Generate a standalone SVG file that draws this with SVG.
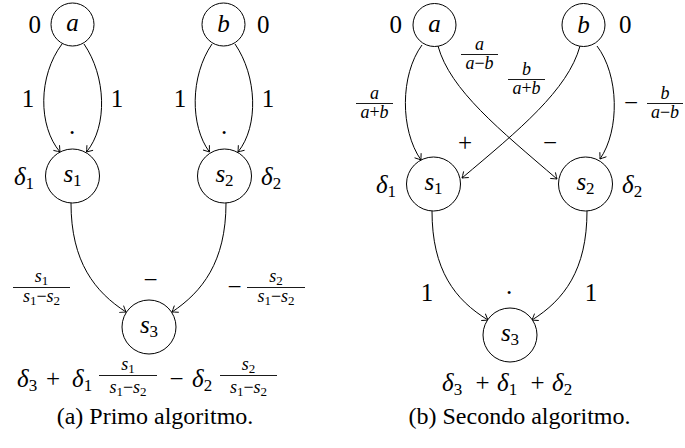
<svg xmlns="http://www.w3.org/2000/svg" width="685" height="448" viewBox="0 0 685 448">
<style>
text{fill:#000}
.m{font-size:25px;font-style:italic}
.r{font-size:25px;font-style:normal}
.sub{font-size:17px;font-style:normal}
.f{font-size:18px;font-style:italic}
.fsub{font-size:13px;font-style:normal}
.up{font-style:normal}
.cap{font-size:24px}
circle{fill:#fff;stroke:#000;stroke-width:1}
.e{fill:none;stroke:#000;stroke-width:1;marker-end:url(#arr)}
.bar{stroke:#000;stroke-width:0.9}
</style>
<defs>
<marker id="arr" markerUnits="userSpaceOnUse" markerWidth="12" markerHeight="12" viewBox="-7 -6 9 12" refX="0" refY="0" orient="auto">
<path d="M-5.5,-4 Q-1.5,-1 0,0 Q-1.5,1 -5.5,4" fill="none" stroke="#000" stroke-width="0.9"/>
</marker>
</defs>

<g id="connectors">
<path class="e" d="M62,44 C38,76 38,126 60,152"/>
<path class="e" d="M84,44 C106,76 108,126 86.5,152"/>
<path class="e" d="M212,44 C190,76 190,126 209.5,152"/>
<path class="e" d="M235,44 C257,76 259,126 238,152"/>
<path class="e" d="M71,203 C71,262 95,292 126,312"/>
<path class="e" d="M226,203 C226,262 202,292 172,312"/>

<path class="e" d="M422,45 C400,75 400,130 421,160"/>
<path class="e" d="M438,46 C450,90 500,130 557,179"/>
<path class="e" d="M580,46 C568,90 519,130 462,178"/>
<path class="e" d="M597,46 C619,75 620,130 600,159"/>
<path class="e" d="M432,211 C432,270 455,300 488,320"/>
<path class="e" d="M587,211 C587,270 564,300 532,320"/>
</g>

<g id="edge-labels">
<text style="font-family:serif" class="r" x="28" y="107" text-anchor="middle">1</text>
<text style="font-family:serif" class="r" x="117" y="107" text-anchor="middle">1</text>
<text style="font-family:serif" class="r" x="72" y="134" text-anchor="middle">.</text>
<text style="font-family:serif" class="r" x="180" y="107" text-anchor="middle">1</text>
<text style="font-family:serif" class="r" x="268" y="107" text-anchor="middle">1</text>
<text style="font-family:serif" class="r" x="224" y="134" text-anchor="middle">.</text>

<text style="font-family:serif" class="f" x="41.5" y="282" text-anchor="middle">s<tspan class="fsub" dy="3">1</tspan></text>
<line class="bar" x1="13" y1="287.5" x2="70" y2="287.5"/>
<text style="font-family:serif" class="f" x="41.5" y="302" text-anchor="middle">s<tspan class="fsub" dy="3">1</tspan><tspan class="up" dy="-3">−</tspan>s<tspan class="fsub" dy="3">2</tspan></text>
<text style="font-family:serif" class="r" x="150.5" y="288" text-anchor="middle">−</text>
<text style="font-family:serif" class="r" x="234.5" y="295" text-anchor="middle">−</text>
<text style="font-family:serif" class="f" x="276" y="282" text-anchor="middle">s<tspan class="fsub" dy="3">2</tspan></text>
<line class="bar" x1="247" y1="287.5" x2="305" y2="287.5"/>
<text style="font-family:serif" class="f" x="276" y="302" text-anchor="middle">s<tspan class="fsub" dy="3">1</tspan><tspan class="up" dy="-3">−</tspan>s<tspan class="fsub" dy="3">2</tspan></text>

<text style="font-family:serif" class="f" x="479.5" y="50" text-anchor="middle">a</text>
<line class="bar" x1="461" y1="54.5" x2="498" y2="54.5"/>
<text style="font-family:serif" class="f" x="479.5" y="69" text-anchor="middle">a<tspan class="up">−</tspan>b</text>
<text style="font-family:serif" class="f" x="526.5" y="75" text-anchor="middle">b</text>
<line class="bar" x1="508" y1="79.5" x2="545" y2="79.5"/>
<text style="font-family:serif" class="f" x="526.5" y="94" text-anchor="middle">a<tspan class="up">+</tspan>b</text>
<text style="font-family:serif" class="f" x="374.5" y="99" text-anchor="middle">a</text>
<line class="bar" x1="356" y1="103.5" x2="393" y2="103.5"/>
<text style="font-family:serif" class="f" x="374.5" y="118" text-anchor="middle">a<tspan class="up">+</tspan>b</text>
<text style="font-family:serif" class="r" x="631" y="111" text-anchor="middle">−</text>
<text style="font-family:serif" class="f" x="665" y="99" text-anchor="middle">b</text>
<line class="bar" x1="647" y1="103.5" x2="683" y2="103.5"/>
<text style="font-family:serif" class="f" x="665" y="118" text-anchor="middle">a<tspan class="up">−</tspan>b</text>
<text style="font-family:serif" class="r" x="465" y="151" text-anchor="middle">+</text>
<text style="font-family:serif" class="r" x="550" y="151" text-anchor="middle">−</text>

<text style="font-family:serif" class="r" x="427" y="301" text-anchor="middle">1</text>
<text style="font-family:serif" class="r" x="509" y="294" text-anchor="middle">.</text>
<text style="font-family:serif" class="r" x="591" y="301" text-anchor="middle">1</text>
</g>

<g id="left-a">
<circle cx="72.5" cy="24.5" r="21.5"/>
<text style="font-family:serif" class="m" x="72.5" y="31" text-anchor="middle">a</text>
<text style="font-family:serif" class="r" x="41" y="33" text-anchor="end">0</text>
</g>
<g id="left-b">
<circle cx="223.5" cy="24.5" r="21.5"/>
<text style="font-family:serif" class="m" x="223.5" y="32" text-anchor="middle">b</text>
<text style="font-family:serif" class="r" x="257" y="33">0</text>
</g>
<g id="left-s1">
<circle cx="72.5" cy="176" r="27"/>
<text style="font-family:serif" class="m" x="72.5" y="182" text-anchor="middle">s<tspan class="sub" dy="4">1</tspan></text>
<text style="font-family:serif" class="m" x="34" y="185" text-anchor="end">δ<tspan class="sub" dy="4">1</tspan></text>
</g>
<g id="left-s2">
<circle cx="224.5" cy="176" r="27"/>
<text style="font-family:serif" class="m" x="224.5" y="182" text-anchor="middle">s<tspan class="sub" dy="4">2</tspan></text>
<text style="font-family:serif" class="m" x="261" y="185">δ<tspan class="sub" dy="4">2</tspan></text>
</g>
<g id="left-s3">
<circle cx="149" cy="327" r="27"/>
<text style="font-family:serif" class="m" x="149" y="333" text-anchor="middle">s<tspan class="sub" dy="4">3</tspan></text>
</g>

<g id="left-formula">
<text style="font-family:serif" class="m" x="17" y="387">δ<tspan class="sub" dy="4">3</tspan></text>
<text style="font-family:serif" class="r" x="53" y="387" text-anchor="middle">+</text>
<text style="font-family:serif" class="m" x="72" y="387">δ<tspan class="sub" dy="4">1</tspan></text>
<text style="font-family:serif" class="f" x="128" y="370" text-anchor="middle">s<tspan class="fsub" dy="3">1</tspan></text>
<line class="bar" x1="99" y1="375.5" x2="157" y2="375.5"/>
<text style="font-family:serif" class="f" x="128" y="393" text-anchor="middle">s<tspan class="fsub" dy="3">1</tspan><tspan class="up" dy="-3">−</tspan>s<tspan class="fsub" dy="3">2</tspan></text>
<text style="font-family:serif" class="r" x="176.5" y="387" text-anchor="middle">−</text>
<text style="font-family:serif" class="m" x="192" y="387">δ<tspan class="sub" dy="4">2</tspan></text>
<text style="font-family:serif" class="f" x="248.5" y="370" text-anchor="middle">s<tspan class="fsub" dy="3">2</tspan></text>
<line class="bar" x1="220" y1="375.5" x2="277" y2="375.5"/>
<text style="font-family:serif" class="f" x="248.5" y="393" text-anchor="middle">s<tspan class="fsub" dy="3">1</tspan><tspan class="up" dy="-3">−</tspan>s<tspan class="fsub" dy="3">2</tspan></text>
</g>

<g id="right-a">
<circle cx="434.5" cy="25" r="21.5"/>
<text style="font-family:serif" class="m" x="434.5" y="31.5" text-anchor="middle">a</text>
<text style="font-family:serif" class="r" x="402" y="33" text-anchor="end">0</text>
</g>
<g id="right-b">
<circle cx="583.5" cy="25" r="21.5"/>
<text style="font-family:serif" class="m" x="583.5" y="32.5" text-anchor="middle">b</text>
<text style="font-family:serif" class="r" x="619" y="33">0</text>
</g>
<g id="right-s1">
<circle cx="433.5" cy="184" r="27"/>
<text style="font-family:serif" class="m" x="433.5" y="190" text-anchor="middle">s<tspan class="sub" dy="4">1</tspan></text>
<text style="font-family:serif" class="m" x="396" y="193" text-anchor="end">δ<tspan class="sub" dy="4">1</tspan></text>
</g>
<g id="right-s2">
<circle cx="585.5" cy="184" r="27"/>
<text style="font-family:serif" class="m" x="585.5" y="190" text-anchor="middle">s<tspan class="sub" dy="4">2</tspan></text>
<text style="font-family:serif" class="m" x="622" y="193">δ<tspan class="sub" dy="4">2</tspan></text>
</g>
<g id="right-s3">
<circle cx="510" cy="335" r="27"/>
<text style="font-family:serif" class="m" x="510" y="341" text-anchor="middle">s<tspan class="sub" dy="4">3</tspan></text>
</g>
<g id="right-formula">
<text style="font-family:serif" class="m" x="442" y="391">δ<tspan class="sub" dy="4">3</tspan></text>
<text style="font-family:serif" class="r" x="482.5" y="391" text-anchor="middle">+</text>
<text style="font-family:serif" class="m" x="497" y="391">δ<tspan class="sub" dy="4">1</tspan></text>
<text style="font-family:serif" class="r" x="537.5" y="391" text-anchor="middle">+</text>
<text style="font-family:serif" class="m" x="552" y="391">δ<tspan class="sub" dy="4">2</tspan></text>
</g>

<g id="captions">
<text style="font-family:serif" class="cap" x="155" y="424" text-anchor="middle">(a)  Primo algoritmo.</text>
<text style="font-family:serif" class="cap" x="519.5" y="424" text-anchor="middle">(b)  Secondo algoritmo.</text>
</g>
</svg>
